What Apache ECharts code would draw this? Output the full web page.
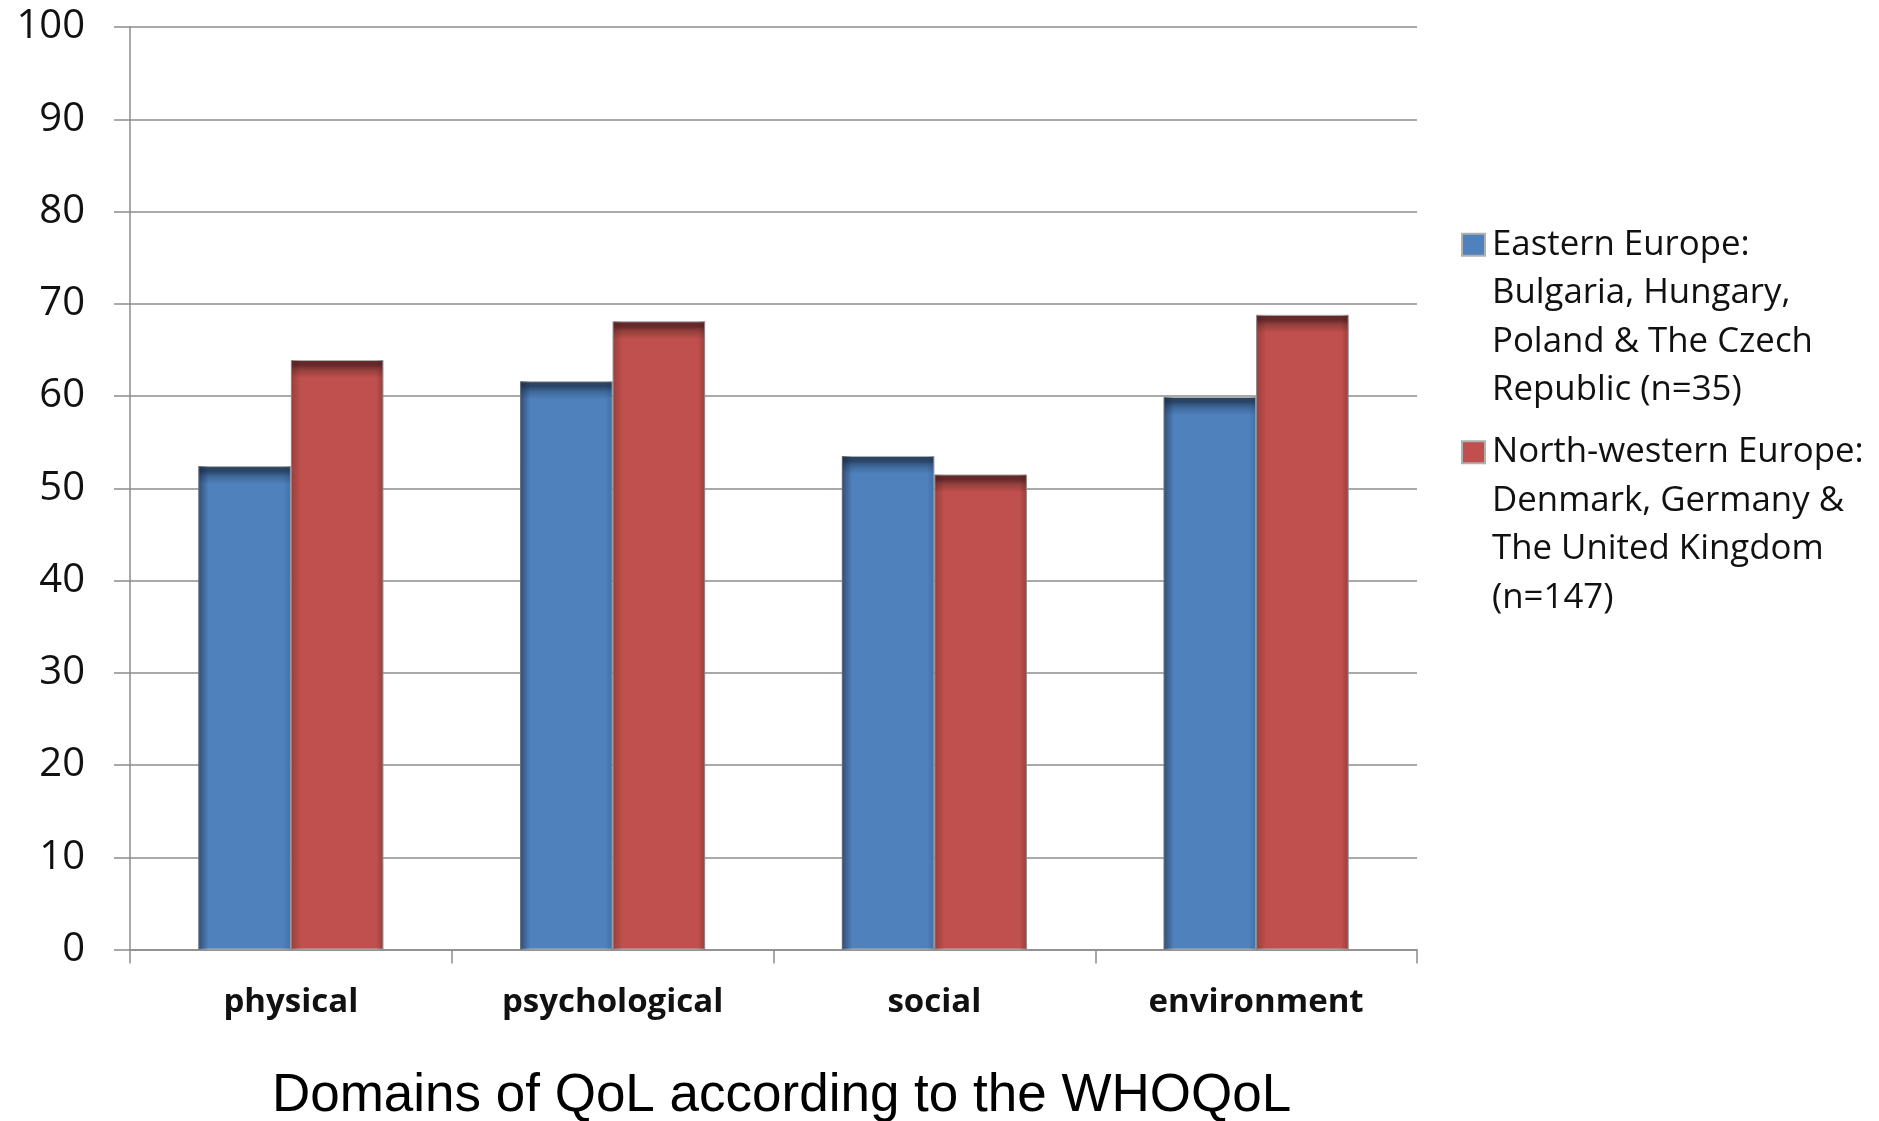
<!DOCTYPE html>
<html>
<head>
<meta charset="utf-8">
<script src="https://cdn.jsdelivr.net/npm/echarts@6/dist/echarts.min.js"></script>
<style>
html,body{margin:0;padding:0;background:#fff;}
#c{width:1879px;height:1121px;}
</style>
</head>
<body>
<div id="c"></div>
<script>
var categories = ['physical', 'psychological', 'social', 'environment'];
var seriesNames = [
  'Eastern Europe:\nBulgaria, Hungary,\nPoland & The Czech\nRepublic (n=35)',
  'North-western Europe:\nDenmark, Germany &\nThe United Kingdom\n(n=147)'
];
var easternValues = [52.4, 61.6, 53.5, 59.9];
var northWesternValues = [63.9, 68.1, 51.5, 68.8];
var yTicks = [0, 10, 20, 30, 40, 50, 60, 70, 80, 90, 100];
var axisTitle = 'Domains of QoL according to the WHOQoL';

var PX_PER_UNIT = (949.5 - 27) / 100;

function grad(v, dark, mid, base) {
  var h = Math.max(v * PX_PER_UNIT, 1);
  var a = Math.min(5 / h, 0.4), m = Math.min(10 / h, 0.6), b = Math.min(18 / h, 0.9);
  return {
    type: 'linear', x: 0, y: 0, x2: 0, y2: 1,
    colorStops: [
      {offset: 0, color: dark},
      {offset: a, color: dark},
      {offset: m, color: mid},
      {offset: b, color: base},
      {offset: 1, color: base}
    ]
  };
}
function items(vals, dark, mid, base) {
  return vals.map(function (v) {
    return {value: v, itemStyle: {color: grad(v, dark, mid, base)}};
  });
}
function edgeShade(leftAlpha, rightAlpha, rgb) {
  return {
    type: 'linear', x: 0, y: 0, x2: 1, y2: 0,
    colorStops: [
      {offset: 0, color: 'rgba(' + rgb + ',' + leftAlpha + ')'},
      {offset: 0.11, color: 'rgba(' + rgb + ',0)'},
      {offset: 0.92, color: 'rgba(' + rgb + ',0)'},
      {offset: 1, color: 'rgba(' + rgb + ',' + rightAlpha + ')'}
    ]
  };
}

var chart = echarts.init(document.getElementById('c'));
var LH = 48.5;
var barOpts = {type: 'bar', barGap: '0%', barCategoryGap: '42.5%'};
chart.setOption({
  animation: false,
  backgroundColor: '#ffffff',
  grid: {left: 130, right: 462, top: 27, bottom: 171.5, containLabel: false, outerBoundsMode: 'none'},
  legend: {
    orient: 'vertical',
    left: 1456,
    top: 70,
    itemWidth: 23,
    itemHeight: 22,
    itemGap: 207.5 - 7 * LH,
    icon: 'rect',
    formatter: function (name) { return '\n\n\n' + name; },
    textStyle: {
      fontFamily: 'Open Sans',
      fontSize: 34.8,
      color: '#111',
      lineHeight: LH,
      padding: [0, 0, 0, 2]
    },
    data: seriesNames
  },
  xAxis: [{
    type: 'category',
    data: categories,
    name: axisTitle,
    nameLocation: 'middle',
    nameGap: 120,
    nameTextStyle: {fontFamily: 'Liberation Sans', fontSize: 53, color: '#000', padding: [0, 0, 0, 16]},
    axisLine: {lineStyle: {color: '#8c8c8c', width: 1.5}},
    axisTick: {show: true, length: 14, lineStyle: {color: '#8c8c8c', width: 1.5}},
    axisLabel: {fontFamily: 'Open Sans', fontWeight: 'bold', fontSize: 33, color: '#111', margin: 37}
  }, {
    type: 'category',
    data: categories,
    show: false,
    position: 'bottom'
  }],
  yAxis: {
    type: 'value',
    min: 0, max: 100, interval: 10,
    axisLine: {show: true, lineStyle: {color: '#8c8c8c', width: 1.5}},
    axisTick: {show: true, length: 16, lineStyle: {color: '#8c8c8c', width: 1.5}},
    splitLine: {show: true, lineStyle: {color: '#8c8c8c', width: 1.5}},
    axisLabel: {
      fontFamily: 'Open Sans', fontSize: 40, color: '#111', margin: 45,
      formatter: function (v) { return yTicks.indexOf(v) >= 0 ? String(v) : ''; }
    }
  },
  series: [
    Object.assign({}, barOpts, {
      name: seriesNames[0], xAxisIndex: 0,
      color: '#4F81BD',
      itemStyle: {borderColor: '#b0b0b0', borderWidth: 1},
      data: items(easternValues, '#2a4466', '#3d6697', '#4F81BD')
    }),
    Object.assign({}, barOpts, {
      name: seriesNames[1], xAxisIndex: 0,
      color: '#C0504D',
      itemStyle: {borderColor: '#b0b0b0', borderWidth: 1},
      data: items(northWesternValues, '#65292a', '#95403d', '#C0504D')
    }),
    Object.assign({}, barOpts, {
      name: 'shade-e', xAxisIndex: 1, silent: true, z: 3,
      itemStyle: {color: edgeShade(0.55, 0.2, '20,35,60')},
      data: easternValues
    }),
    Object.assign({}, barOpts, {
      name: 'shade-n', xAxisIndex: 1, silent: true, z: 3,
      itemStyle: {color: edgeShade(0.3, 0.3, '60,20,20')},
      data: northWesternValues
    })
  ]
});
</script>
</body>
</html>
